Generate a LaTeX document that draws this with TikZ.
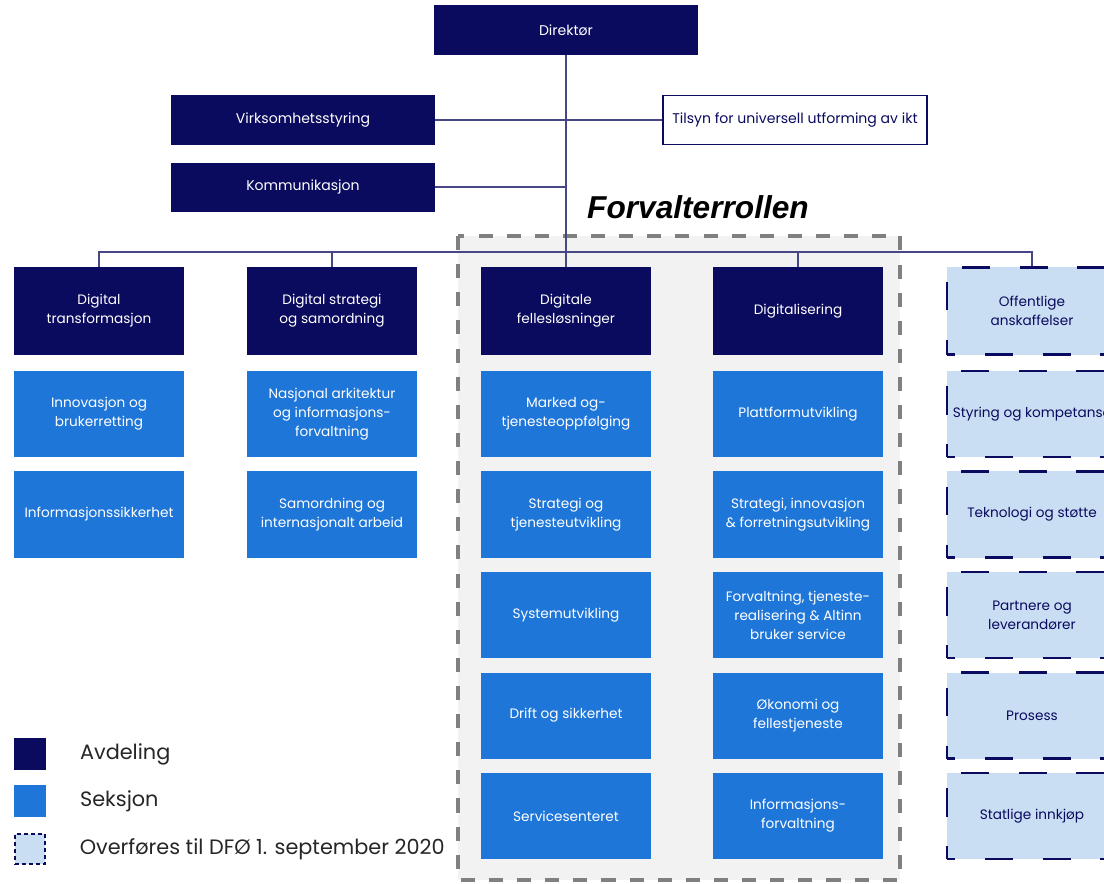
\documentclass[tikz,border=0pt]{standalone}
\usepackage{fontspec}
\setmainfont{Poppins}
\newfontfamily\headfont{Liberation Sans}
\usetikzlibrary{positioning}

\definecolor{navy}{RGB}{10,10,94}
\definecolor{seksblue}{RGB}{30,118,216}
\definecolor{dfoblue}{RGB}{202,222,243}
\definecolor{framegray}{RGB}{128,128,128}
\definecolor{framefill}{RGB}{242,242,242}

\tikzset{
  ledelse/.style={fill=navy, text=white, minimum width=6.6cm, minimum height=1.225cm,
    inner sep=0pt, font=\fontsize{10}{12}\selectfont},
  avdeling/.style={fill=navy, text=white, minimum width=4.25cm, minimum height=2.175cm,
    inner sep=0pt, align=center, font=\fontsize{9.7}{13.6}\selectfont},
  seksjon/.style={avdeling, fill=seksblue, minimum height=2.15cm},
  dfo/.style={avdeling, fill=dfoblue, text=navy, draw=navy, line width=1.8pt,
    dash pattern=on 20pt off 21pt, dash phase=14pt},
  link/.style={draw=navy!75, line width=0.9pt},
  legtext/.style={right=0.72cm of #1, text=black!85, font=\fontsize{14.8}{17}\selectfont}
}

\begin{document}
\begin{tikzpicture}[x=0.025cm, y=-0.025cm]
\useasboundingbox (0,0) rectangle (1104,883);
\clip (0,0) rectangle (1104,883);

\draw[framegray, fill=framefill, line width=2.8pt, dash pattern=on 10pt off 10pt]
  (458,236) rectangle (900,880);
\node[font=\headfont\bfseries\itshape\fontsize{22.5}{26}\selectfont] (forv) at (698,207) {Forvalterrollen};

\node[ledelse] (dir) at (566,30) {Direktør};
\node[ledelse] (virk) at (303,120) {Virksomhetsstyring};
\node[ledelse] (komm) at (303,187) {Kommunikasjon};
\node[ledelse, fill=white, text=navy, draw=navy, line width=1.2pt] (tilsyn) at (795,120) {Tilsyn for universell utforming av ikt};

\node[avdeling] (dtr) at (99,311) {Digital\\transformasjon};
\node[avdeling] (dsa) at (332,311) {Digital strategi\\og samordning};
\node[avdeling] (dfl) at (566,311) {Digitale\\fellesløsninger};
\node[avdeling] (dig) at (798,311) {Digitalisering};
\node[dfo] (off) at (1032,311) {Offentlige\\anskaffelser};

\foreach \t [count=\i, evaluate=\i as \yy using 313.5+100.5*\i] in
  {Innovasjon og\\brukerretting, Informasjonssikkerhet}
  \node[seksjon] (dtr\i) at (99,\yy) {\t};
\foreach \t [count=\i, evaluate=\i as \yy using 313.5+100.5*\i] in
  {Nasjonal arkitektur\\og informasjons-\\forvaltning, Samordning og\\internasjonalt arbeid}
  \node[seksjon] (dsa\i) at (332,\yy) {\t};
\foreach \t [count=\i, evaluate=\i as \yy using 313.5+100.5*\i] in
  {Marked og-\\tjenesteoppfølging, Strategi og\\tjenesteutvikling, Systemutvikling,
   Drift og sikkerhet, Servicesenteret}
  \node[seksjon] (dfl\i) at (566,\yy) {\t};
\foreach \t [count=\i, evaluate=\i as \yy using 313.5+100.5*\i] in
  {Plattformutvikling, {Strategi, innovasjon\\\& forretningsutvikling},
   {Forvaltning, tjeneste-\\realisering \& Altinn\\bruker service},
   Økonomi og\\fellestjeneste, Informasjons-\\forvaltning}
  \node[seksjon] (dig\i) at (798,\yy) {\t};
\foreach \t [count=\i, evaluate=\i as \yy using 313.5+100.5*\i] in
  {Styring og kompetanse, Teknologi og støtte, Partnere og\\leverandører,
   Prosess, Statlige innkjøp}
  \node[dfo, minimum height=2.15cm] (off\i) at (1032,\yy) {\t};

\coordinate (bus) at (566,252);
\draw[link] (dir.south) -- (dfl.north);
\draw[link] (virk.east) -- (tilsyn.west);
\draw[link] (komm.east) -- (komm.east -| dir.south);
\draw[link] (dtr.north) |- (bus) -| (off.north);
\foreach \n in {dsa, dig}
  \draw[link] (\n.north) -- (\n.north |- bus);

% forklaring
\node[fill=navy, minimum size=0.8cm, inner sep=0pt] (leg1) at (30,754) {};
\node[fill=seksblue, minimum size=0.8cm, inner sep=0pt] (leg2) at (30,801) {};
\node[fill=dfoblue, draw=navy, line width=1.4pt, dash pattern=on 2.5pt off 2.5pt,
  minimum size=0.75cm, inner sep=0pt] (leg3) at (30,849) {};
\node[legtext=leg1] (legt1) {Avdeling};
\node[legtext=leg2] (legt2) {Seksjon};
\node[legtext=leg3] (legt3) {Overføres til DFØ 1. september 2020};
\end{tikzpicture}
\end{document}
